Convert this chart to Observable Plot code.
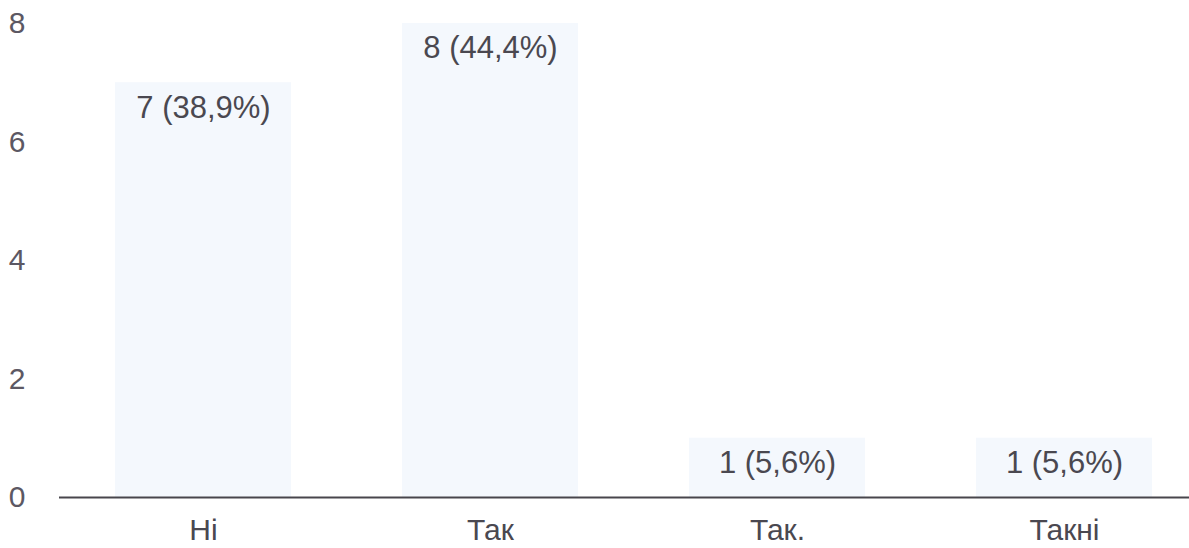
<!DOCTYPE html>
<html>
<head>
<meta charset="utf-8">
<script src="https://cdn.jsdelivr.net/npm/d3@7"></script>
<script src="https://cdn.jsdelivr.net/npm/@observablehq/plot@0.6"></script>
<style>
  html, body { margin: 0; padding: 0; background: #fff; }
  #chart svg { display: block; }
</style>
</head>
<body>
<div id="chart"></div>
<script>
const categories = ["Ні", "Так", "Так.", "Такні"];
const counts = [7, 8, 1, 1];
const labels = ["7 (38,9%)", "8 (44,4%)", "1 (5,6%)", "1 (5,6%)"];
const yTicks = [0, 2, 4, 6, 8];

const data = categories.map((c, i) => ({cat: c, n: counts[i], label: labels[i]}));

const chart = Plot.plot({
  width: 1189,
  height: 548,
  marginLeft: 59,
  marginRight: 0,
  marginTop: 0,
  marginBottom: 51,
  style: {fontFamily: "'Liberation Sans', Arial, sans-serif", background: "#fff"},
  x: {domain: categories, range: [59.5, 1207.5], paddingInner: 0.387, paddingOuter: 0.1935},
  y: {domain: [0, 8], range: [497, 23]},
  marks: [
    Plot.barY(data, {x: "cat", y: "n", fill: "#f4f8fd"}),
    Plot.ruleY([0], {stroke: "#48464c", strokeWidth: 2}),
    Plot.text(data, {x: "cat", y: "n", text: "label", dy: 25, fill: "#4a4850", fontSize: 31}),
    Plot.axisY({ticks: yTicks, tickSize: 0, tickPadding: 34, fontSize: 30, color: "#5c5863", label: null}),
    Plot.axisX({tickSize: 0, tickPadding: 21, fontSize: 30, color: "#4a4850", label: null})
  ]
});
document.getElementById("chart").appendChild(chart);
</script>
</body>
</html>
